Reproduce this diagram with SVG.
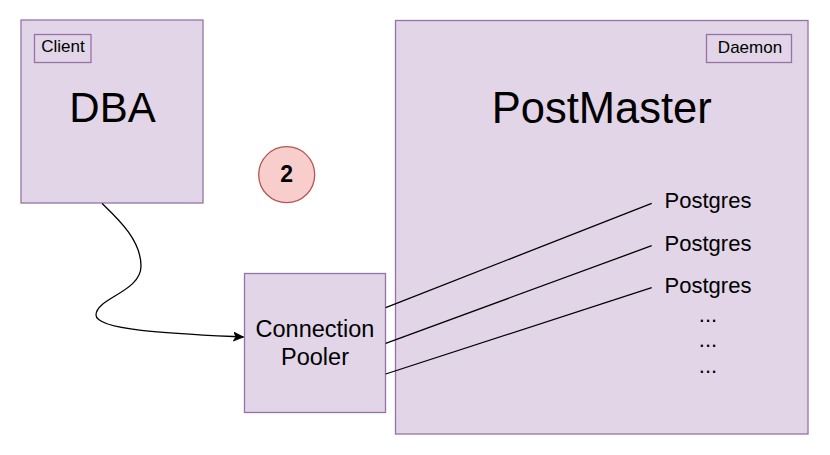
<svg xmlns="http://www.w3.org/2000/svg" width="830" height="455" viewBox="0 0 830 455">
<style>
.box{fill:#e1d5e7;stroke:#9673a6;stroke-width:1.3}
.t{font-family:"Liberation Sans",Arial,sans-serif;fill:#000;text-anchor:middle}
.edge{fill:none;stroke:#000;stroke-width:1.3}
</style>
<defs>
<marker id="arr" markerWidth="12" markerHeight="10" viewBox="0 0 12 10" refX="10" refY="5" orient="auto" markerUnits="userSpaceOnUse">
<path d="M0,0.5 L10,5 L0,9.5 L2.5,5 Z" fill="#000" stroke="#000" stroke-width="0.8"/>
</marker>
</defs>
<rect width="830" height="455" fill="#fff"/>
<g id="dba">
<rect class="box" x="21" y="20" width="182" height="183"/>
<text class="t" x="112.5" y="121.7" font-size="42">DBA</text>
</g>
<g id="client-label">
<rect class="box" x="34.5" y="34.5" width="56.5" height="28"/>
<text class="t" x="63" y="52.3" font-size="17">Client</text>
</g>
<g id="step-badge">
<circle cx="286.7" cy="174.7" r="28" fill="#f8cecc" stroke="#b85450" stroke-width="1.3"/>
<text class="t" x="286.7" y="182" font-size="23" font-weight="bold">2</text>
</g>
<g id="postmaster">
<rect class="box" x="395.5" y="20.5" width="412.5" height="413.5"/>
<text class="t" x="601.7" y="122.7" font-size="43.5">PostMaster</text>
</g>
<g id="daemon-label">
<rect class="box" x="706.5" y="34.5" width="85" height="28"/>
<text class="t" x="750" y="52.7" font-size="17">Daemon</text>
</g>
<g id="pooler">
<rect class="box" x="244.5" y="273.5" width="141" height="139"/>
<text class="t" x="315" y="336.7" font-size="23.5">Connection</text>
<text class="t" x="315" y="365" font-size="23.5">Pooler</text>
</g>
<g id="postgres-list">
<text class="t" x="708" y="208.3" font-size="22">Postgres</text>
<text class="t" x="708" y="250.5" font-size="22">Postgres</text>
<text class="t" x="708" y="293" font-size="22">Postgres</text>
<text class="t" x="708" y="321.7" font-size="22">...</text>
<text class="t" x="708" y="346.7" font-size="22">...</text>
<text class="t" x="708" y="373" font-size="22">...</text>
</g>
<g id="connectors">
<path class="edge" d="M102,203.5 C118,219 141,240 141,266 C141,292 96,298 96,315 C96,331 180,334 243.5,337" marker-end="url(#arr)"/>
<line class="edge" x1="385.7" y1="307.7" x2="651.7" y2="203.3"/>
<line class="edge" x1="385.7" y1="343.3" x2="651.7" y2="245.7"/>
<line class="edge" x1="385.7" y1="374" x2="651.7" y2="287.7"/>
</g>
</svg>
